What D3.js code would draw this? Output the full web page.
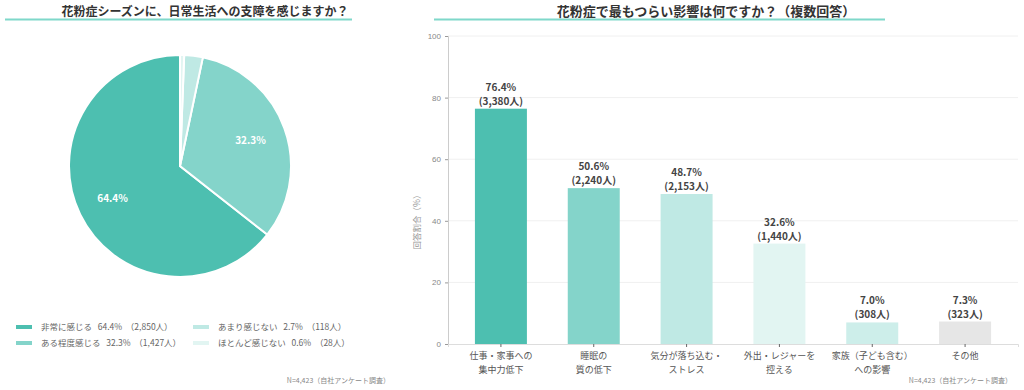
<!DOCTYPE html>
<html>
<head>
<meta charset="utf-8">
<script src="https://cdn.jsdelivr.net/npm/d3@7"></script>
<style>
  body { margin: 0; background: #fff; }
  svg { font-family: "Noto Sans CJK JP", "Noto Sans", sans-serif; }
</style>
</head>
<body>
<svg id="chart" width="1024" height="390"></svg>
<script>
// 円グラフ: 日常生活への支障
const pieLabels = ["非常に感じる", "ある程度感じる", "あまり感じない", "ほとんど感じない"];
const pieValues = [64.4, 32.3, 2.7, 0.6];
const pieCounts = ["2,850", "1,427", "118", "28"];
const pieColors = ["#4dbfb0", "#84d4ca", "#bfe9e4", "#e2f5f2"];

// 棒グラフ: 最もつらい影響
const barCats = [
  ["仕事・家事への", "集中力低下"],
  ["睡眠の", "質の低下"],
  ["気分が落ち込む・", "ストレス"],
  ["外出・レジャーを", "控える"],
  ["家族（子ども含む）", "への影響"],
  ["その他"]
];
const barValues = [76.4, 50.6, 48.7, 32.6, 7.0, 7.3];
const barCounts = ["3,380", "2,240", "2,153", "1,440", "308", "323"];
const barColors = ["#4dbfb0", "#84d4ca", "#bfe9e4", "#e2f5f2", "#cdeeea", "#e6e6e6"];
const yTicks = [0, 20, 40, 60, 80, 100];

const svg = d3.select("#chart");
const lineColor = "#7fd8ca";

// ---- 左: タイトル ----
svg.append("text")
  .attr("x", 205).attr("y", 16)
  .attr("text-anchor", "middle")
  .attr("font-size", 12).attr("font-weight", "bold").attr("fill", "#333")
  .text("花粉症シーズンに、日常生活への支障を感じますか？");
svg.append("line")
  .attr("x1", 5).attr("x2", 352).attr("y1", 19.5).attr("y2", 19.5)
  .attr("stroke", lineColor).attr("stroke-width", 2);

// ---- 左: 円グラフ ----
const pieIdx = d3.range(pieValues.length);
const pie = d3.pie().sort(null).value(i => pieValues[i])
  .startAngle(0).endAngle(-2 * Math.PI);
const arc = d3.arc().innerRadius(0).outerRadius(111);
const pg = svg.append("g").attr("transform", "translate(180,166)");
const arcs = pie(pieIdx);

pg.selectAll("path")
  .data(arcs)
  .enter()
  .append("path")
  .attr("d", arc)
  .attr("fill", d => pieColors[d.data])
  .attr("stroke", "#fff")
  .attr("stroke-width", 2);

const labelArc = d3.arc().innerRadius(75).outerRadius(75);
pg.selectAll("text")
  .data(arcs.filter(d => pieValues[d.data] > 10))
  .enter()
  .append("text")
  .attr("transform", d => `translate(${labelArc.centroid(d)})`)
  .attr("text-anchor", "middle")
  .attr("dy", "0.35em")
  .attr("font-size", 10).attr("font-weight", "bold").attr("fill", "#fff")
  .text(d => pieValues[d.data].toFixed(1) + "%");

// 凡例
const legend = svg.append("g");
pieIdx.forEach(i => {
  const col = Math.floor(i / 2), row = i % 2;
  const x = col === 0 ? 16 : 193;
  const y = 327 + row * 16;
  legend.append("rect")
    .attr("x", x).attr("y", y - 2).attr("width", 16).attr("height", 4)
    .attr("fill", pieColors[i]);
  legend.append("text")
    .attr("x", x + 25).attr("y", y).attr("dy", "0.35em")
    .attr("font-size", 8.5).attr("fill", "#666")
    .attr("xml:space", "preserve")
    .text(`${pieLabels[i]}   ${pieValues[i].toFixed(1)}%  （${pieCounts[i]}人）`);
});

svg.append("text")
  .attr("x", 390).attr("y", 383)
  .attr("text-anchor", "end")
  .attr("font-size", 7).attr("fill", "#888")
  .text("N=4,423（自社アンケート調査）");

// ---- 右: タイトル ----
svg.append("text")
  .attr("x", 706).attr("y", 16)
  .attr("text-anchor", "middle")
  .attr("font-size", 13).attr("font-weight", "bold").attr("fill", "#333")
  .text("花粉症で最もつらい影響は何ですか？（複数回答）");
svg.append("line")
  .attr("x1", 434).attr("x2", 885).attr("y1", 19.5).attr("y2", 19.5)
  .attr("stroke", lineColor).attr("stroke-width", 2);

// ---- 右: 棒グラフ ----
const x = d3.scaleBand()
  .domain(d3.range(barValues.length))
  .range([448, 1018])
  .paddingInner(0.44)
  .paddingOuter(0.29);
const y = d3.scaleLinear().domain([0, 100]).range([344, 36]);

// グリッド
svg.append("g")
  .selectAll("line")
  .data(yTicks.filter(t => t > 0))
  .enter()
  .append("line")
  .attr("x1", 448).attr("x2", 1018)
  .attr("y1", d => y(d)).attr("y2", d => y(d))
  .attr("stroke", "#f0f0f0").attr("stroke-width", 1);

// 棒
svg.append("g")
  .selectAll("rect")
  .data(barValues)
  .enter()
  .append("rect")
  .attr("x", (d, i) => x(i))
  .attr("y", d => y(d))
  .attr("width", x.bandwidth())
  .attr("height", d => y(0) - y(d))
  .attr("fill", (d, i) => barColors[i]);

// 値ラベル
const vl = svg.append("g");
barValues.forEach((v, i) => {
  const cx = x(i) + x.bandwidth() / 2;
  vl.append("text")
    .attr("x", cx).attr("y", y(v) - 18)
    .attr("text-anchor", "middle")
    .attr("font-size", 10).attr("font-weight", "bold").attr("fill", "#444")
    .text(v.toFixed(1) + "%");
  vl.append("text")
    .attr("x", cx).attr("y", y(v) - 4)
    .attr("text-anchor", "middle")
    .attr("font-size", 10).attr("font-weight", "bold").attr("fill", "#444")
    .text(`(${barCounts[i]}人)`);
});

// Y軸
const yAxis = svg.append("g")
  .attr("transform", "translate(448,0)")
  .call(d3.axisLeft(y).tickValues(yTicks).tickSize(3).tickPadding(4));
yAxis.select(".domain").attr("stroke", "#ccc");
yAxis.selectAll(".tick line").attr("stroke", "#999");
yAxis.selectAll("text").attr("font-size", 8).attr("fill", "#888");

svg.append("text")
  .attr("transform", "translate(420,220) rotate(-90)")
  .attr("text-anchor", "middle")
  .attr("font-size", 8.5).attr("fill", "#999")
  .text("回答割合（%）");

// X軸
const xAxis = svg.append("g")
  .attr("transform", "translate(0,344)")
  .call(d3.axisBottom(x).tickSize(3).tickFormat(""));
xAxis.select(".domain").attr("stroke", "#ddd");
xAxis.selectAll(".tick line").attr("stroke", "#666");

const xl = svg.append("g");
barCats.forEach((lines, i) => {
  const t = xl.append("text")
    .attr("x", x(i) + x.bandwidth() / 2)
    .attr("y", 359)
    .attr("text-anchor", "middle")
    .attr("font-size", 9).attr("fill", "#555");
  lines.forEach((s, j) => {
    t.append("tspan")
      .attr("x", x(i) + x.bandwidth() / 2)
      .attr("dy", j === 0 ? 0 : 14)
      .text(s);
  });
});

svg.append("text")
  .attr("x", 1012).attr("y", 383)
  .attr("text-anchor", "end")
  .attr("font-size", 7).attr("fill", "#888")
  .text("N=4,423（自社アンケート調査）");
</script>
</body>
</html>
